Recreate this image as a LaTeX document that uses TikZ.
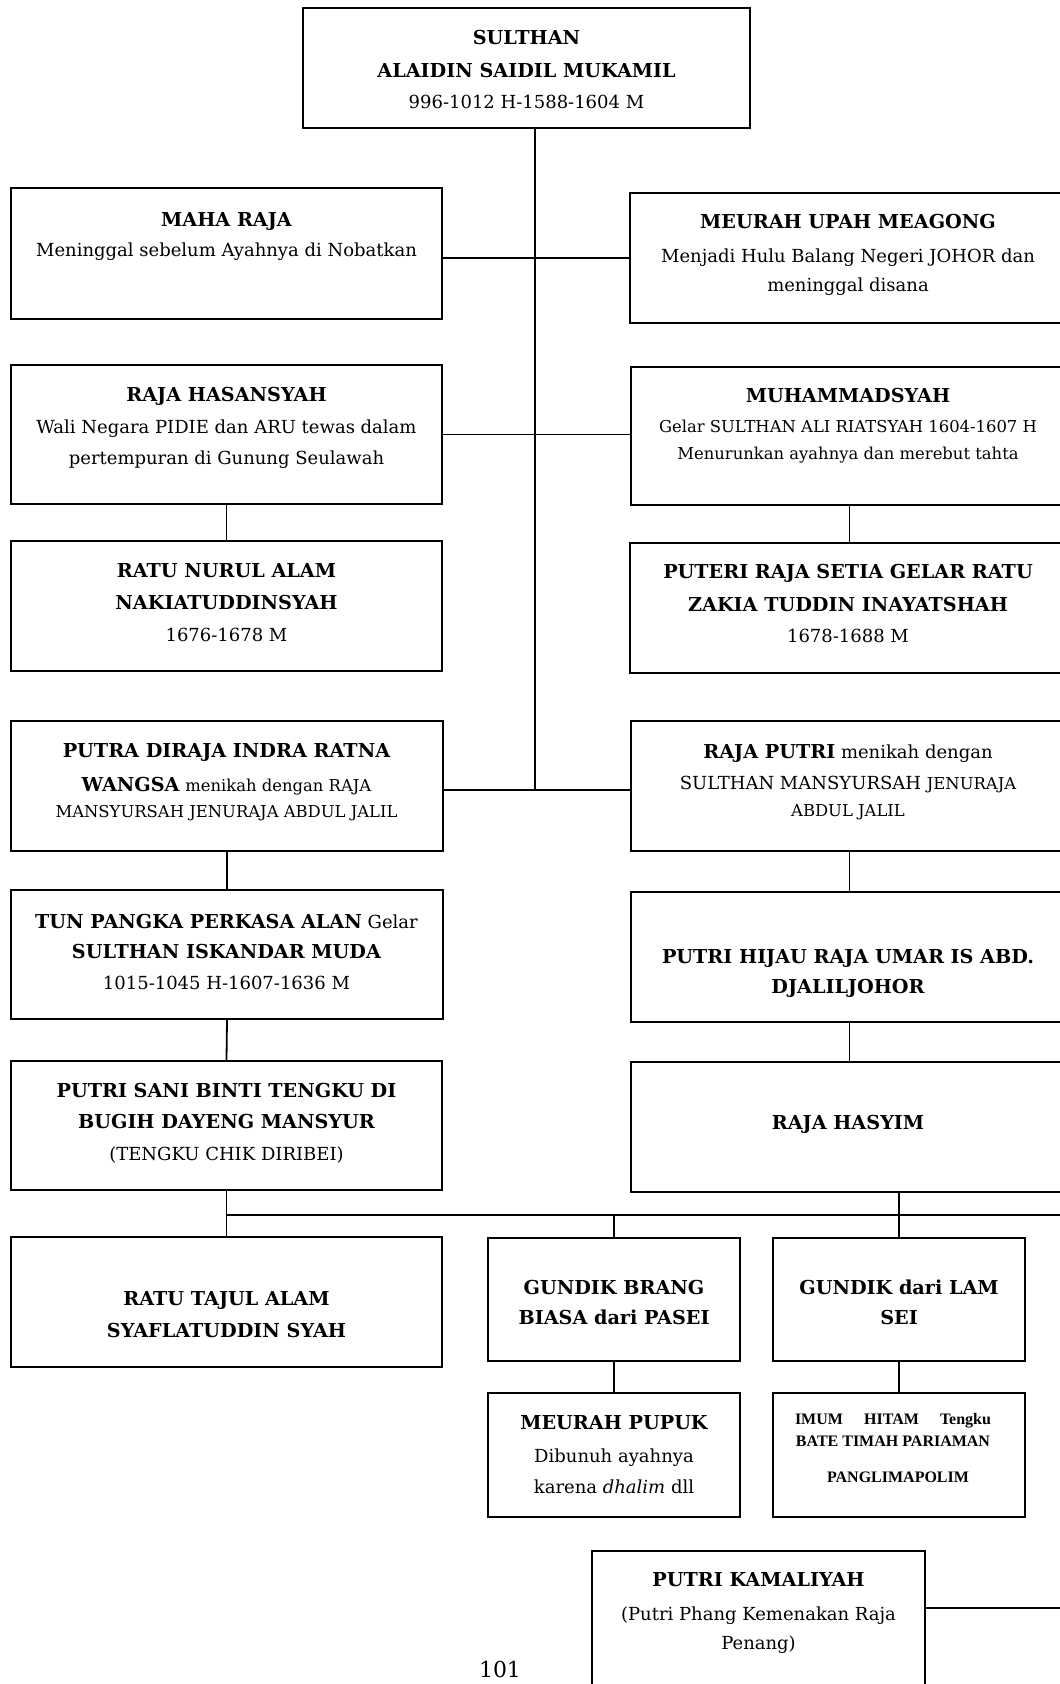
\documentclass[tikz,border=0pt]{standalone}
\usepackage{fontspec}
\setmainfont{DejaVu Serif}
\newfontfamily\timesfont{Liberation Serif}
\usetikzlibrary{fit}
\newcommand\mytl[4]{\node[txt,anchor=base] (#1) at (#2,#3) {#4};}
\newcommand\smf{\fontsize{8.2}{10}\selectfont}
\newcommand\mybf[1]{{\fontsize{9.6}{11}\selectfont\bfseries #1}}
\begin{document}
\begin{tikzpicture}[x=0.5pt,y=-0.5pt,
  box/.style={draw,line width=0.9pt,inner sep=0pt},
  conn/.style={line width=0.9pt},
  txt/.style={align=center,inner sep=0pt,font=\fontsize{9}{11}\selectfont},
  imtxt/.style={inner sep=0pt,font=\timesfont\bfseries\fontsize{8}{10}\selectfont}]
\useasboundingbox (0,0) rectangle (1059,1684);
% boxes
\node[box,fit={(303,8) (750,128)}] (sulthan) {};
\node[box,fit={(11,188) (442,319)}] (maharaja) {};
\node[box,fit={(630,193) (1070,323)}] (meurah) {};
\node[box,fit={(11,365) (442,504)}] (hasan) {};
\node[box,fit={(631,367) (1070,505)}] (muham) {};
\node[box,fit={(11,541) (442,671)}] (nurul) {};
\node[box,fit={(630,543) (1070,673)}] (puteri) {};
\node[box,fit={(11,721) (443,851)}] (putra) {};
\node[box,fit={(631,721) (1070,851)}] (rajaputri) {};
\node[box,fit={(11,890) (443,1019)}] (tun) {};
\node[box,fit={(631,892) (1070,1022)}] (hijau) {};
\node[box,fit={(11,1061) (442,1190)}] (sani) {};
\node[box,fit={(631,1062) (1070,1192)}] (hasyim) {};
\node[box,fit={(11,1237) (442,1367)}] (tajul) {};
\node[box,fit={(488,1238) (740,1361)}] (brang) {};
\node[box,fit={(773,1238) (1025,1361)}] (lamsei) {};
\node[box,fit={(488,1393) (740,1517)}] (pupuk) {};
\node[box,fit={(773,1393) (1025,1517)}] (imum) {};
\node[box,fit={(592,1551) (925,1700)}] (kamal) {};
% helper coordinates
\coordinate (trunkx) at (535,0);
\coordinate (rx) at (849.5,0);
\coordinate (j4) at (535,790);
\coordinate (busR) at (1070,1215);
\coordinate (kamR) at (1070,1608);
% connectors
\draw[conn] (sulthan.south -| trunkx) -- (j4);
\draw[conn] (maharaja.east |- meurah.west) -- (meurah.west);
\draw[conn] (hasan.east) -- (hasan.east -| muham.west);
\draw[conn] (putra.east |- j4) -- (rajaputri.west |- j4);
\draw[conn] (hasan.south) -- (nurul.north);
\draw[conn] (muham.south -| rx) -- (puteri.north -| rx);
\draw[conn] (putra.south) -- (tun.north);
\draw[conn] (rajaputri.south -| rx) -- (hijau.north -| rx);
\draw[conn] (tun.south) -- (sani.north);
\draw[conn] (hijau.south -| rx) -- (hasyim.north -| rx);
\draw[conn] (sani.south) -- (tajul.north);
\draw[conn] (sani.south |- busR) -- (busR);
\draw[conn] (hasyim.south -| lamsei.north) -- (lamsei.north);
\draw[conn] (brang.north |- busR) -- (brang.north);
\draw[conn] (brang.south) -- (pupuk.north);
\draw[conn] (lamsei.south) -- (imum.north);
\draw[conn] (kamal.east |- kamR) -- (kamR);
% texts
\mytl{s1}{526.5}{45}{\mybf{SULTHAN}}
\mytl{s2}{526.5}{78}{\mybf{ALAIDIN SAIDIL MUKAMIL}}
\mytl{s3}{526.5}{109}{996-1012 H-1588-1604 M}
\mytl{m1}{226.5}{227}{\mybf{MAHA RAJA}}
\mytl{m2}{226.5}{257}{Meninggal sebelum Ayahnya di Nobatkan}
\mytl{u1}{848}{229}{\mybf{MEURAH UPAH MEAGONG}}
\mytl{u2}{848}{262.5}{Menjadi Hulu Balang Negeri JOHOR dan}
\mytl{u3}{848}{292}{meninggal disana}
\mytl{h1}{226.5}{401}{\mybf{RAJA HASANSYAH}}
\mytl{h2}{226.5}{434}{Wali Negara PIDIE dan ARU tewas dalam}
\mytl{h3}{226.5}{465}{pertempuran di Gunung Seulawah}
\mytl{mu1}{848}{403}{\mybf{MUHAMMADSYAH}}
\mytl{mu2}{848}{432}{\smf Gelar SULTHAN ALI RIATSYAH 1604-1607 H}
\mytl{mu3}{848}{459}{\smf Menurunkan ayahnya dan merebut tahta}
\mytl{n1}{226.5}{577}{\mybf{RATU NURUL ALAM}}
\mytl{n2}{226.5}{609.5}{\mybf{NAKIATUDDINSYAH}}
\mytl{n3}{226.5}{641}{1676-1678 M}
\mytl{p1}{848}{578}{\mybf{PUTERI RAJA SETIA GELAR RATU}}
\mytl{p2}{848}{611}{\mybf{ZAKIA TUDDIN INAYATSHAH}}
\mytl{p3}{848}{642}{1678-1688 M}
\mytl{d1}{226.5}{757}{\mybf{PUTRA DIRAJA INDRA RATNA}}
\mytl{d2}{226.5}{791}{\mybf{WANGSA} {\smf menikah dengan RAJA}}
\mytl{d3}{226.5}{817.5}{\smf MANSYURSAH JENURAJA ABDUL JALIL}
\mytl{r1}{848}{758}{\mybf{RAJA PUTRI} menikah dengan}
\mytl{r2}{848}{789.5}{SULTHAN MANSYURSAH {\smf JENURAJA}}
\mytl{r3}{848}{816}{\smf ABDUL JALIL}
\mytl{k1}{226.5}{928}{\mybf{TUN PANGKA PERKASA ALAN} Gelar}
\mytl{k2}{226.5}{958}{\mybf{SULTHAN ISKANDAR MUDA}}
\mytl{k3}{226.5}{989.5}{1015-1045 H-1607-1636 M}
\mytl{j1}{848}{963}{\mybf{PUTRI HIJAU RAJA UMAR IS ABD.}}
\mytl{j2}{848}{993.5}{\mybf{DJALILJOHOR}}
\mytl{a1}{226.5}{1097}{\mybf{PUTRI SANI BINTI TENGKU DI}}
\mytl{a2}{226.5}{1128}{\mybf{BUGIH DAYENG MANSYUR}}
\mytl{a3}{226.5}{1160.5}{(TENGKU CHIK DIRIBEI)}
\mytl{y1}{848}{1129.5}{\mybf{RAJA HASYIM}}
\mytl{t1}{226.5}{1305.5}{\mybf{RATU TAJUL ALAM}}
\mytl{t2}{226.5}{1337}{\mybf{SYAFLATUDDIN SYAH}}
\mytl{b1}{614}{1294}{\mybf{GUNDIK BRANG}}
\mytl{b2}{614}{1324}{\mybf{BIASA dari PASEI}}
\mytl{l1}{899}{1294}{\mybf{GUNDIK dari LAM}}
\mytl{l2}{899}{1324}{\mybf{SEI}}
\mytl{pp1}{614}{1429.5}{\mybf{MEURAH PUPUK}}
\mytl{pp2}{614}{1462}{Dibunuh ayahnya}
\mytl{pp3}{614}{1493}{karena \textit{dhalim} dll}
\node[imtxt,anchor=base] (i1) at (893,1424) {\makebox[98pt][s]{IMUM HITAM Tengku}};
\node[imtxt,anchor=base] (i1b) at (893,1446.5) {BATE TIMAH PARIAMAN};
\node[imtxt,anchor=base] (i2) at (898,1482) {PANGLIMAPOLIM};
\mytl{c1}{758.5}{1586}{\mybf{PUTRI KAMALIYAH}}
\mytl{c2}{758.5}{1620}{(Putri Phang Kemenakan Raja}
\mytl{c3}{758.5}{1649.5}{Penang)}
\node[txt,anchor=base,font=\fontsize{11}{13}\selectfont] (pg) at (500,1677) {101};
\end{tikzpicture}
\end{document}
